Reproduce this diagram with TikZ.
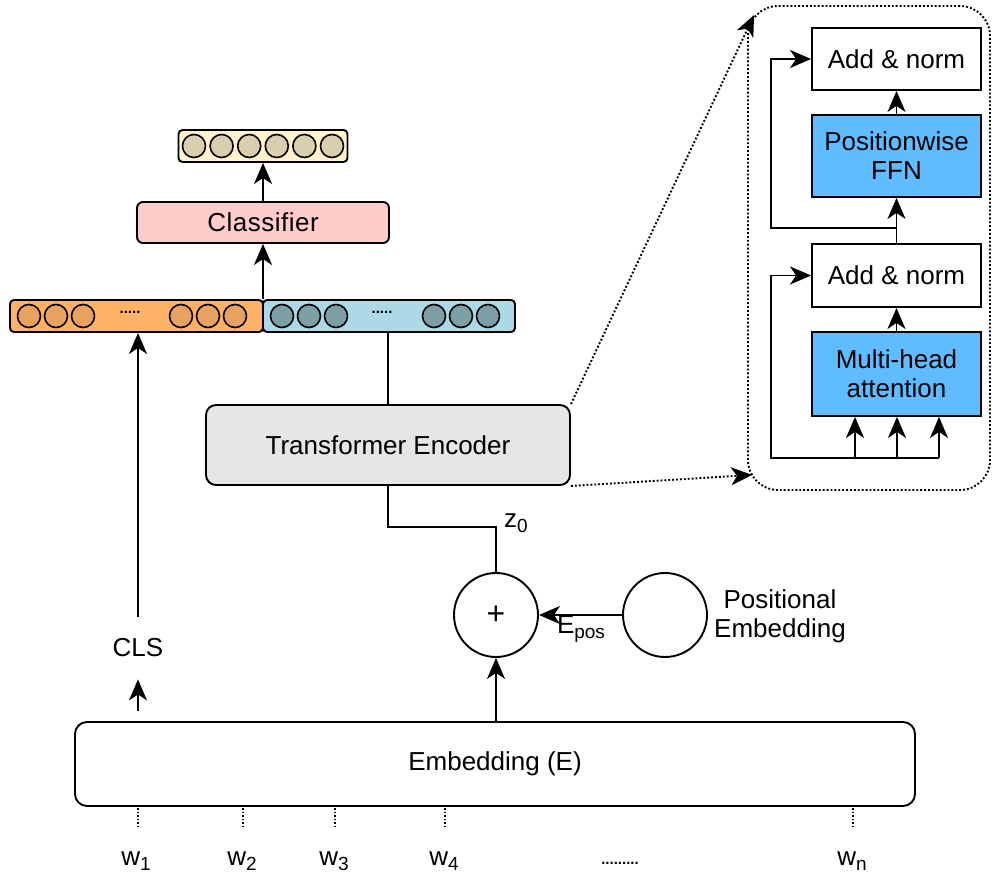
\documentclass[tikz,border=0pt]{standalone}
\usepackage{fontspec}
\setmainfont{Liberation Sans}
\usetikzlibrary{arrows.meta,calc}

\definecolor{outfill}{RGB}{255,242,204}
\definecolor{outdot}{RGB}{217,207,174}
\definecolor{clsfill}{RGB}{255,204,204}
\definecolor{orfill}{RGB}{255,179,102}
\definecolor{ordot}{RGB}{230,162,94}
\definecolor{blfill}{RGB}{173,216,230}
\definecolor{bldot}{RGB}{124,158,165}
\definecolor{encfill}{RGB}{230,230,230}
\definecolor{subfill}{RGB}{94,188,255}

% lowered subscript as used in the labels
\newcommand{\lowsub}[1]{\raisebox{-5pt}{\fontsize{19}{19}\selectfont #1}}

\begin{document}
\begin{tikzpicture}[x=1pt,y=-1pt,
  every node/.style={font=\fontsize{26}{29}\selectfont, inner sep=0pt},
  box/.style={draw, line width=1.9pt, rounded corners=#1},
  box/.default=5pt,
  plainbox/.style={draw, line width=1.9pt, minimum width=169pt, align=center},
  head/.style={-{Stealth[length=21pt,width=18pt,inset=6pt]}},
  tip/.style={line width=1.9pt, head},
  conn/.style={line width=1.9pt},
  dotline/.style={line width=1.9pt, dotted},
  unit/.style={line width=1.6pt},
  tick/.style={line width=1.5pt, dotted},
  smalldots/.style={font=\fontsize{15}{15}\selectfont\bfseries},
  lbl/.style={anchor=base}
]
\useasboundingbox (0,0) rectangle (995,874);

% ---------- output layer and classifier ----------
\node[box=4pt, fill=outfill, minimum width=169pt, minimum height=32pt] (out) at (263,146) {};
\foreach \i in {0,...,5}
  \filldraw[unit, fill=outdot] (194+\i*27.6,146) circle (11.5pt);

\node[box=6pt, fill=clsfill, minimum width=252pt, minimum height=41pt] (cls) at (263,222.5) {C\kern0.5pt l\kern0.5pt a\kern0.5pt s\kern0.5pt s\kern0.5pt i\kern0.5pt f\kern0.5pt i\kern0.5pt e\kern0.5pt r};

% ---------- concatenated representation ----------
\node[box=4pt, fill=orfill, minimum width=253pt, minimum height=32pt] (orange) at (136.5,316) {};
\node[box=4pt, fill=blfill, minimum width=252pt, minimum height=32pt] (blue) at (389,316) {};
\foreach \cx in {29,56,83,181,208,235}
  \filldraw[unit, fill=ordot] (\cx,316) circle (11.5pt);
\foreach \cx in {282,309,336,434,461,488}
  \filldraw[unit, fill=bldot] (\cx,316) circle (11.5pt);
\node[smalldots] (odots) at (130,312) {.....};
\node[smalldots] (bdots) at (382,312) {.....};

\draw[tip] (cls.north) -- (out.south);
\draw[tip] (cls.south |- orange.north) -- (cls.south);

% ---------- encoder ----------
\node[box=10pt, fill=encfill, minimum width=364pt, minimum height=80pt] (enc) at (388,445) {Transformer Encoder};
\draw[conn] (enc.north) -- (enc.north |- blue.south);

% ---------- input sum ----------
\node[draw, circle, line width=1.9pt, minimum size=84pt, font=\fontsize{32}{32}\selectfont] (plus) at (496,615) {+};
\node[draw, circle, line width=1.9pt, minimum size=84pt] (pos) at (665,615) {};
\node[align=center] (poslbl) at (780,616) {Positional\\Embedding};
\draw[tip] (pos.west) -- (plus.east);
\node[lbl] (epos) at (581,633) {E\lowsub{pos}};
\draw[conn] (enc.south) -- ++(0,41) -| (plus.north);
\node[lbl] (z0) at (516,527) {z\lowsub{0}};

% ---------- embedding ----------
\node[box=12pt, minimum width=840pt, minimum height=84pt] (emb) at (495,764) {Embedding (E)};
\draw[tip] (plus.south |- emb.north) -- (plus.south);

\node (clstok) at (138,648) {CLS};
\draw[tip] ([yshift=22pt]clstok.north) -- (clstok.north |- orange.south);
\draw[tip, shorten <=10pt, shorten >=22pt] (clstok.south |- emb.north) -- (clstok.south);

% ---------- input tokens ----------
\node[lbl] (w1) at (136,865) {w\lowsub{1}};
\node[lbl] (w2) at (242,865) {w\lowsub{2}};
\node[lbl] (w3) at (334,865) {w\lowsub{3}};
\node[lbl] (w4) at (444,865) {w\lowsub{4}};
\node[lbl] (wn) at (852,865) {w\lowsub{n}};
\node[smalldots] (wdots) at (620,863) {.........};
\foreach \t/\x in {w1/138,w2/243,w3/335,w4/445,wn/853}
  \draw[tick] (\x,808) -- (\x,829);

% ---------- encoder layer detail ----------
\node[draw, dotted, line width=1.9pt, rounded corners=30pt, minimum width=242pt, minimum height=484pt] (panel) at (869,248) {};
\draw[dotline, head] (enc.north east) -- ($(panel.north west)+(7,10)$);
\draw[dotline, head] (enc.south east) -- ($(panel.south west)+(5,-16)$);

\node[plainbox, minimum height=62pt] (an1) at (896.5,59) {Add \& norm};
\node[plainbox, fill=subfill, minimum height=82pt] (ffn) at (896.5,156) {Positionwise\\FFN};
\node[plainbox, minimum height=63pt] (an2) at (896.5,275.5) {Add \& norm};
\node[plainbox, fill=subfill, minimum height=84pt] (mha) at (896.5,374) {Multi-head\\attention};

\draw[tip] (ffn.north) -- (an1.south);
\draw[tip] (an2.north) -- (ffn.south);
\draw[tip] (mha.north) -- (an2.south);

\coordinate (busL) at (771,458);
\coordinate (q) at (855,458);
\coordinate (k) at (897,458);
\coordinate (v) at (939,458);
\draw[tip] (v) -- (busL) |- (an2.west);
\foreach \p in {q,k,v}
  \draw[tip] (\p) -- (\p |- mha.south);

\coordinate (j) at ($(ffn.south)+(0,30)$);
\draw[tip] (j) -- (busL |- j) |- (an1.west);

\end{tikzpicture}
\end{document}
